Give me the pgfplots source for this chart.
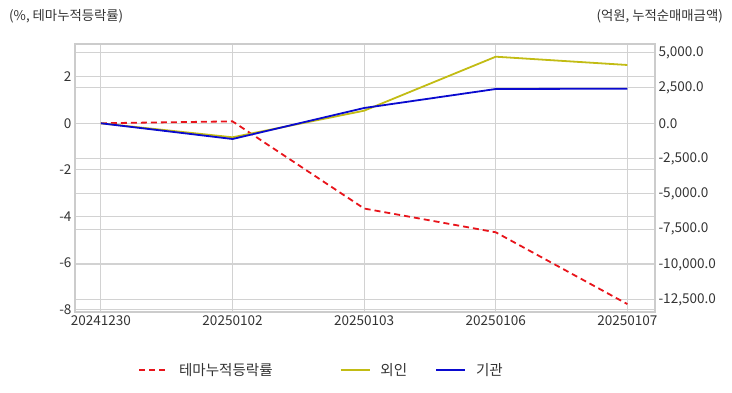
\documentclass[border=0pt]{standalone}
\usepackage{fontspec}
\setmainfont{Noto Sans CJK KR}
\usepackage{pgfplots}
\pgfplotsset{compat=1.18}
\definecolor{gridc}{HTML}{D2D2D2}
\definecolor{framec}{HTML}{CCCCCC}
\definecolor{redl}{HTML}{E8141B}
\definecolor{yell}{HTML}{C2BC14}
\definecolor{bluel}{HTML}{0A0ACF}
\definecolor{textc}{HTML}{333333}
\begin{document}
\begin{tikzpicture}[x=1bp,y=1bp]
\path (0,0) rectangle (732,392);
\node[anchor=west, inner sep=0, text=textc, font=\fontsize{13.4}{15}\selectfont] at (9,376) {(\%, 테마누적등락률)};
\node[anchor=east, inner sep=0, text=textc, font=\fontsize{13.4}{15}\selectfont] at (723,376) {(억원, 누적순매매금액)};
\begin{axis}[set layers, at={(75bp,80bp)}, anchor=south west, width=580bp, height=268bp, scale only axis,
  xmin=-0.197, xmax=4.21, ymin=-8.10, ymax=3.40,
  xtick={0,1,2,3,4}, xticklabels={20241230,20250102,20250103,20250106,20250107},
  ytick={-8,-6,-4,-2,0,2},
  grid=major, major grid style={gridc, line width=1bp},
  axis line style={framec, line width=1.5bp},
  tick style={draw=none},
  ticklabel style={font=\fontsize{13.6}{15}\selectfont, text=textc},
  /pgf/number format/assume math mode=true,
  ]
  \addplot[redl, line width=1.8bp, dash pattern=on 6bp off 4bp] coordinates {(0,0) (1,0.08) (2,-3.66) (3,-4.68) (4,-7.76)};
\end{axis}
\begin{axis}[set layers, at={(75bp,80bp)}, anchor=south west, width=580bp, height=268bp, scale only axis,
  xmin=-0.197, xmax=4.21, ymin=-13355, ymax=5612,
  axis x line=none, axis y line*=right,
  ytick={-12500,-10000,-7500,-5000,-2500,0,2500,5000},
  ymajorgrids, major grid style={gridc, line width=1bp},
  axis line style={framec, line width=1.5bp},
  tick style={draw=none},
  scaled y ticks=false,
  ticklabel style={font=\fontsize{13.6}{15}\selectfont, text=textc},
  /pgf/number format/assume math mode=true,
  yticklabel style={/pgf/number format/.cd, fixed, fixed zerofill, precision=1, 1000 sep={,}},
  legend style={at={(0.4250,-0.216)}, anchor=center, draw=none, fill=none,
    font=\fontsize{14.6}{16}\selectfont, text=textc, legend columns=3,
    /tikz/column 1/.style={column sep=8bp}, /tikz/column 3/.style={column sep=8bp}, /tikz/column 5/.style={column sep=8bp},
    /tikz/column 2/.style={column sep=65bp}, /tikz/column 4/.style={column sep=26bp}},
  legend image code/.code={\draw[#1] (0bp,0bp) -- (29bp,0bp);},
  ]
  \addlegendimage{redl, line width=1.8bp, dash pattern=on 6bp off 4bp}
  \addplot[yell, line width=1.8bp] coordinates {(0,0) (1,-991) (2,892) (3,4713) (4,4126)};
  \addplot[bluel, line width=1.8bp] coordinates {(0,0) (1,-1111) (2,1083) (3,2427) (4,2449)};
  \legend{테마누적등락률, 외인, 기관}
\end{axis}
\end{tikzpicture}
\end{document}
